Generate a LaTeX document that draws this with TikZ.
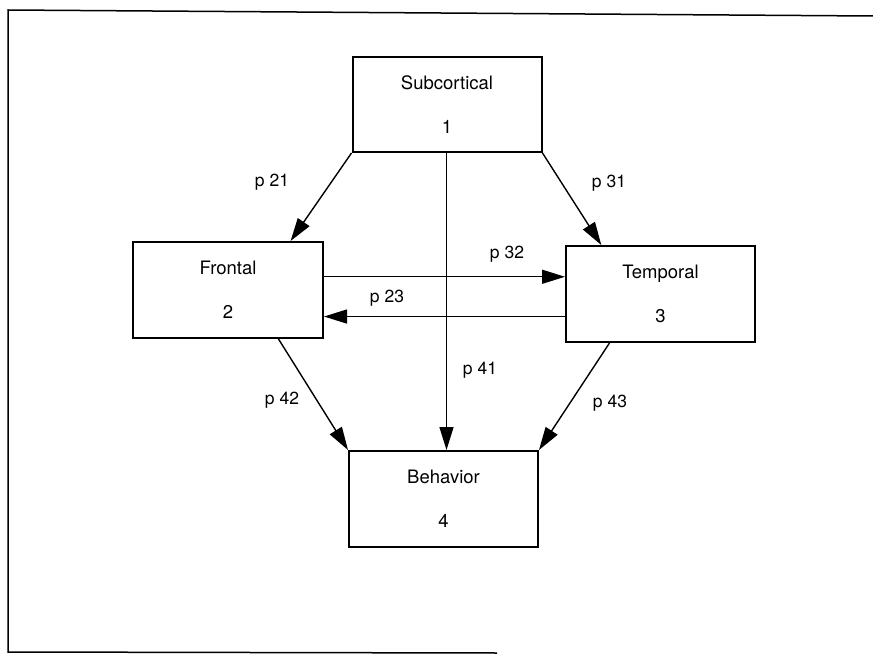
\documentclass[tikz,border=0pt]{standalone}
\usepackage{fontspec}
\setmainfont{TeX Gyre Heros}
\usetikzlibrary{arrows.meta,calc}
\begin{document}
\begin{tikzpicture}[x=1pt,y=-1pt,
  box/.style={draw,line width=2pt,minimum width=189pt,minimum height=95pt,
    inner sep=0pt,align=center,font=\fontsize{18.5}{44}\selectfont},
  lbl/.style={font=\fontsize{17.5}{18}\selectfont,inner sep=0pt},
  arr/.style={line width=1.4pt,-{Triangle[length=23pt,width=14pt]}},
  frame/.style={line width=1.5pt}]
\useasboundingbox (0,0) rectangle (873,658);
% frame
\coordinate (ftr) at (873,16);
\coordinate (ftl) at (8,10);
\coordinate (fbl) at (8,652);
\coordinate (fbr) at (497,653);
\draw[frame] (ftr) -- (ftl) -- (fbl) -- (fbr);
% boxes
\node[box] (sub) at (447,104.5) {Subcortical\\1};
\node[box,minimum width=190pt,minimum height=96pt] (fr) at (228,290) {Frontal\\2};
\node[box,minimum height=96pt] (tp) at (660.5,294) {Temporal\\3};
\node[box,minimum height=96pt] (bh) at (443.5,499) {Behavior\\4};
% connection points
\coordinate (fr21) at ($(fr.north west)!0.826!(fr.north east)$);
\coordinate (tp31) at ($(tp.north west)!0.19!(tp.north east)$);
\coordinate (fr32) at ($(fr.north east)!0.365!(fr.south east)$);
\coordinate (tp23) at ($(tp.north west)!0.73!(tp.south west)$);
\coordinate (fr42) at ($(fr.south west)!0.763!(fr.south east)$);
\coordinate (tp43) at ($(tp.south west)!0.233!(tp.south east)$);
\coordinate (sub41) at ($(sub.south)+(-0.5,0)$);
% arrows
\draw[arr] (sub.south west) -- (fr21);
\draw[arr] (sub.south east) -- (tp31);
\draw[arr] (sub41) -- (sub41 |- bh.north);
\draw[arr] (fr32) -- (fr32 -| tp.west);
\draw[arr] (tp23) -- (tp23 -| fr.east);
\draw[arr] (fr42) -- (bh.north west);
\draw[arr] (tp43) -- (bh.north east);
% labels
\node[lbl] (l21) at (272,182) {p 21};
\node[lbl] (l31) at (609,183) {p 31};
\node[lbl] (l32) at (507,254) {p 32};
\node[lbl] (l23) at (387,298) {p 23};
\node[lbl] (l41) at (480,370) {p 41};
\node[lbl] (l42) at (282,400) {p 42};
\node[lbl] (l43) at (610,403) {p 43};
\end{tikzpicture}
\end{document}
